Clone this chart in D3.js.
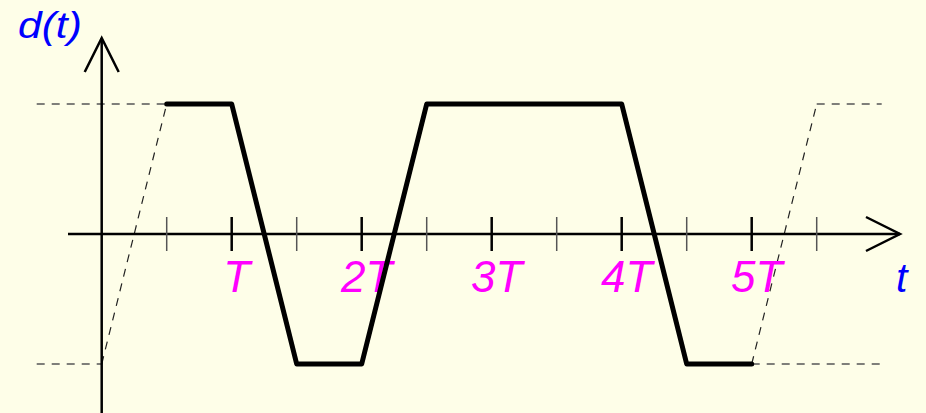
<!DOCTYPE html>
<html>
<head>
<meta charset="utf-8">
<script src="https://cdn.jsdelivr.net/npm/d3@7"></script>
<style>
  html, body { margin: 0; padding: 0; background: #FEFEE8; }
  svg { display: block; }
</style>
</head>
<body>
<svg id="chart" width="926" height="413"></svg>
<script>
// Trapezoidal signal d(t), time in units of T, amplitude normalised to ±1
const signalT = [0.5, 1, 1.5, 2, 2.5, 4, 4.5, 5];
const signalD = [1, 1, -1, -1, 1, 1, -1, -1];

// Dashed continuation of the waveform outside the drawn interval
const dashLeftT = [-0.5, 0.5];
const dashLeftD = [1, 1];
const dashLeftLowT = [-0.5, 0];
const dashLeftLowD = [-1, -1];
const rampLeftT = [0, 0.5];
const rampLeftD = [-1, 1];
const rampRightT = [5, 5.5];
const rampRightD = [-1, 1];
const dashRightT = [5.5, 6];
const dashRightD = [1, 1];
const dashRightLowT = [5, 6];
const dashRightLowD = [-1, -1];

// Axis ticks
const majorTicks = [1, 2, 3, 4, 5];
const minorTicks = [0.5, 1.5, 2.5, 3.5, 4.5, 5.5];
const tickLabels = ["T", "2T", "3T", "4T", "5T"];

const svg = d3.select("#chart");
const W = 926, H = 413;
const FONT = "Liberation Sans, Arial, sans-serif";

const x = d3.scaleLinear().domain([0, 1]).range([101.7, 231.7]);
const y = d3.scaleLinear().domain([-1, 1]).range([364, 104]);

svg.append("rect").attr("width", W).attr("height", H).attr("fill", "#FEFEE8");

const line = d3.line().x(d => x(d[0])).y(d => y(d[1]));
const pts = (ts, ds) => ts.map((t, i) => [t, ds[i]]);

// dashed guides
const dashed = svg.append("g")
  .attr("fill", "none")
  .attr("stroke-dasharray", "8,7");
[[dashLeftT, dashLeftD], [dashLeftLowT, dashLeftLowD], [dashRightT, dashRightD], [dashRightLowT, dashRightLowD]]
  .forEach(([ts, ds]) => {
    dashed.append("path").attr("d", line(pts(ts, ds)))
      .attr("stroke", "#555").attr("stroke-width", 1.5);
  });
[[rampLeftT, rampLeftD], [rampRightT, rampRightD]].forEach(([ts, ds]) => {
  dashed.append("path").attr("d", line(pts(ts, ds)))
    .attr("stroke", "#222").attr("stroke-width", 1.2);
});

// axes
const y0 = y(0);
const axes = svg.append("g").attr("fill", "none").attr("stroke", "#000").attr("stroke-width", 2.5);
axes.append("line").attr("x1", 68).attr("x2", 900).attr("y1", y0).attr("y2", y0);
axes.append("path").attr("d", `M${866},${y0 - 17} L900,${y0} L${866},${y0 + 17}`);
axes.append("line").attr("x1", x(0)).attr("x2", x(0)).attr("y1", 38).attr("y2", 413);
axes.append("path").attr("d", `M${x(0) - 17},72 L${x(0)},38 L${x(0) + 17},72`);

// ticks
svg.append("g").selectAll("line").data(minorTicks).join("line")
  .attr("x1", d => x(d)).attr("x2", d => x(d))
  .attr("y1", y0 - 17).attr("y2", y0 + 17)
  .attr("stroke", "#555").attr("stroke-width", 1.5);
svg.append("g").selectAll("line").data(majorTicks).join("line")
  .attr("x1", d => x(d)).attr("x2", d => x(d))
  .attr("y1", y0 - 17).attr("y2", y0 + 17)
  .attr("stroke", "#000").attr("stroke-width", 2.5);

// tick labels
svg.append("g").selectAll("text").data(majorTicks).join("text")
  .attr("x", d => x(d) + 5).attr("y", 292)
  .attr("text-anchor", "middle")
  .attr("font-family", FONT)
  .attr("font-style", "italic")
  .attr("font-size", 44)
  .attr("fill", "#FF00FF")
  .text((d, i) => tickLabels[i]);

// the signal
svg.append("path")
  .attr("d", line(pts(signalT, signalD)))
  .attr("fill", "none")
  .attr("stroke", "#000")
  .attr("stroke-width", 5)
  .attr("stroke-linejoin", "round")
  .attr("stroke-linecap", "round");

// axis names
svg.append("text").attr("transform", "translate(18,38) scale(1.15,1)")
  .attr("font-family", FONT)
  .attr("font-style", "italic").attr("font-size", 37)
  .attr("fill", "#0000FF").text("d(t)");
svg.append("text").attr("x", 896).attr("y", 292)
  .attr("font-family", FONT)
  .attr("font-style", "italic").attr("font-size", 41)
  .attr("fill", "#0000FF").text("t");
</script>
</body>
</html>
